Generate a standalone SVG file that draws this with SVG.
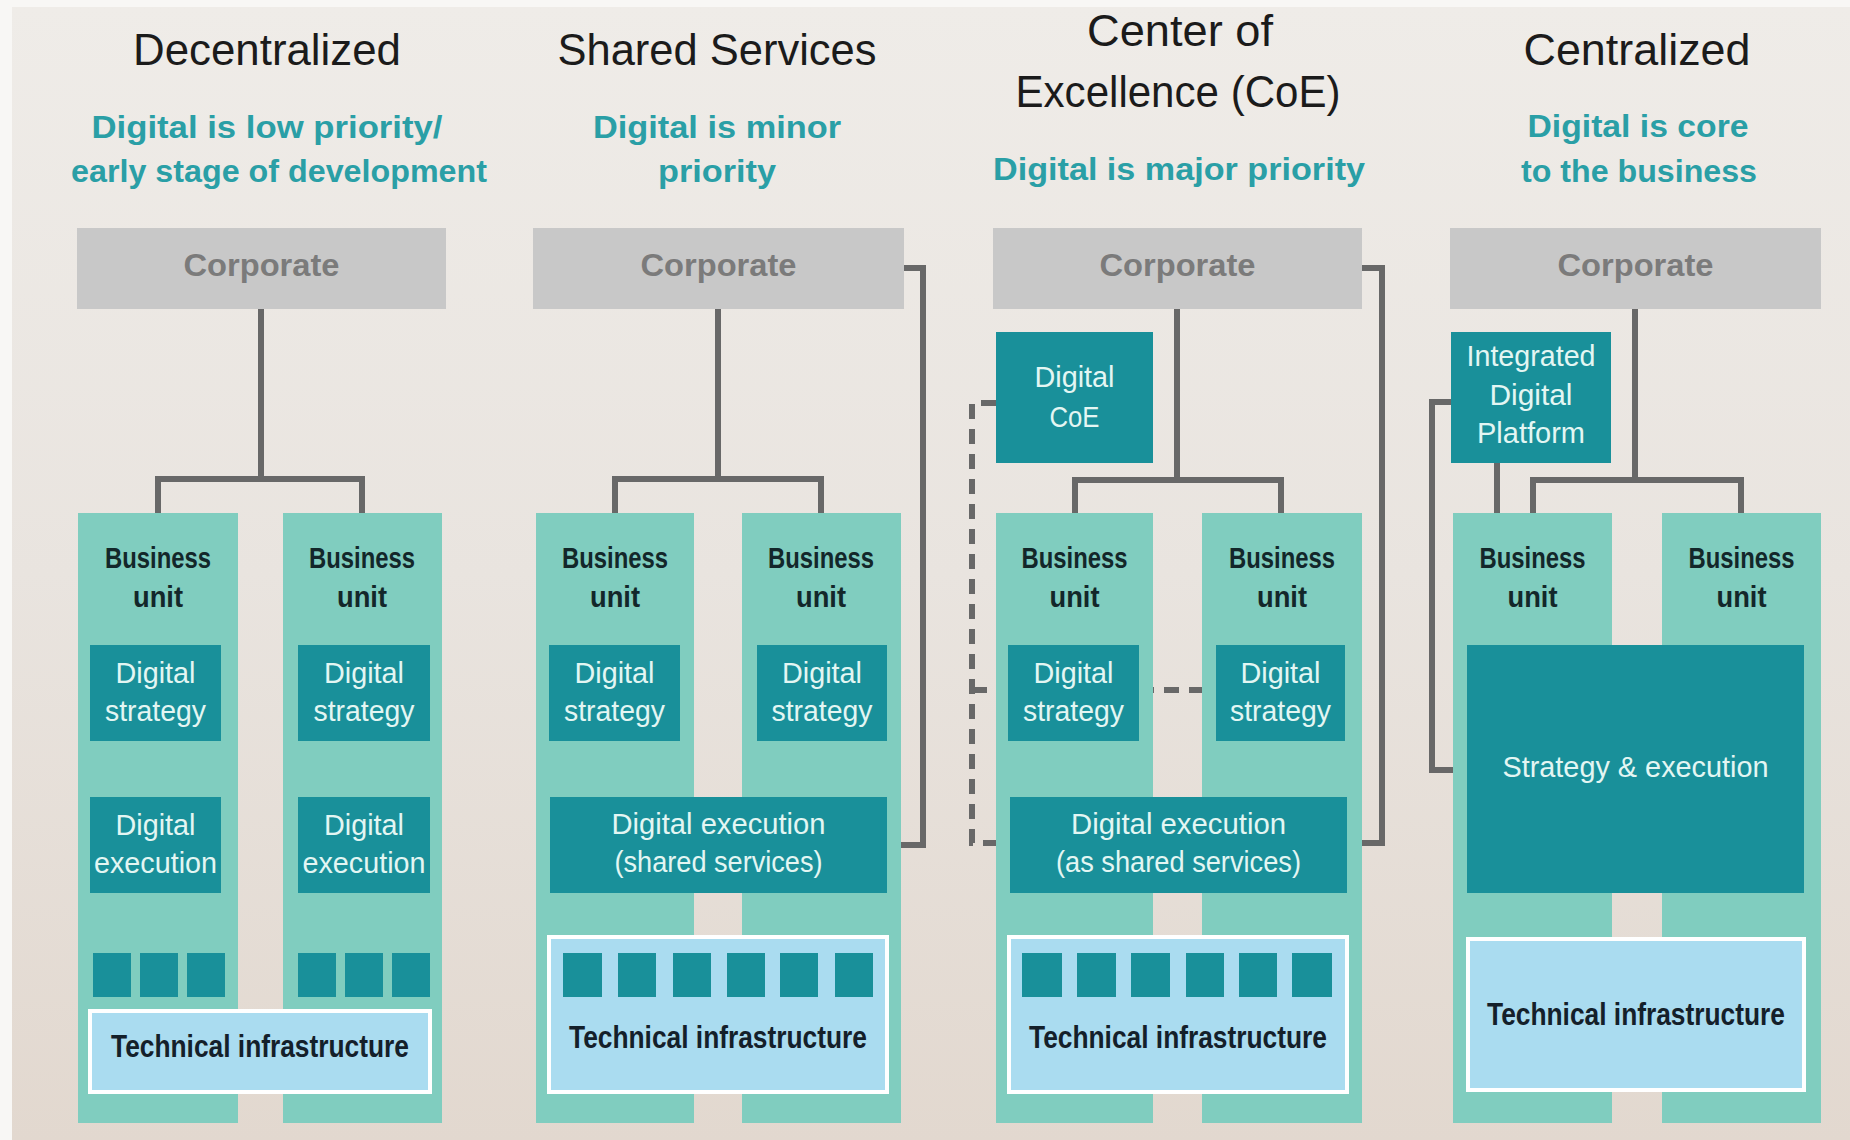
<svg xmlns="http://www.w3.org/2000/svg" width="1850" height="1140" viewBox="0 0 1850 1140">
<defs>
<linearGradient id="bg" x1="0" y1="0" x2="0" y2="1">
<stop offset="0" stop-color="#efece8"/>
<stop offset="0.5" stop-color="#e9e4df"/>
<stop offset="1" stop-color="#e2d8cf"/>
</linearGradient>
<style>
.title{font-family:"Liberation Sans",Arial,sans-serif;font-size:44px;fill:#1b1b1b;text-anchor:middle}
.sub{font-family:"Liberation Sans",Arial,sans-serif;font-size:32px;font-weight:bold;fill:#2a9fa6;text-anchor:middle}
.corp{fill:#c8c8c8}
.corpt{font-family:"Liberation Sans",Arial,sans-serif;font-size:32px;font-weight:bold;fill:#7b7b7b;text-anchor:middle}
.bu{fill:#80cdbf}
.but{font-family:"Liberation Sans",Arial,sans-serif;font-size:29px;font-weight:bold;fill:#13272a;text-anchor:middle}
.dk{fill:#19909a}
.dkt{font-family:"Liberation Sans",Arial,sans-serif;font-size:29px;fill:#e3f6f3;text-anchor:middle}
.ti{fill:#aadcf0;stroke:#ffffff;stroke-width:4}
.tit{font-family:"Liberation Sans",Arial,sans-serif;font-size:31px;font-weight:bold;fill:#14202a;text-anchor:middle}
.ln{fill:none;stroke:#686868;stroke-width:6}
.dash{fill:none;stroke:#686868;stroke-width:6;stroke-dasharray:15 10}
</style>
</defs>
<rect x="0" y="0" width="1850" height="1140" fill="#f8f7f5"/>
<rect x="12" y="7" width="1838" height="1133" fill="url(#bg)"/>

<g id="titles">
<text class="title" x="267" y="65" textLength="268" lengthAdjust="spacingAndGlyphs">Decentralized</text>
<text class="title" x="717" y="65" textLength="319" lengthAdjust="spacingAndGlyphs">Shared Services</text>
<text class="title" x="1180" y="46" textLength="186" lengthAdjust="spacingAndGlyphs">Center of</text>
<text class="title" x="1178" y="107" textLength="325" lengthAdjust="spacingAndGlyphs">Excellence (CoE)</text>
<text class="title" x="1637" y="65" textLength="227" lengthAdjust="spacingAndGlyphs">Centralized</text>
<text class="sub" x="267" y="138" textLength="351" lengthAdjust="spacingAndGlyphs">Digital is low priority/</text>
<text class="sub" x="279" y="182" textLength="416" lengthAdjust="spacingAndGlyphs">early stage of development</text>
<text class="sub" x="717" y="138" textLength="248" lengthAdjust="spacingAndGlyphs">Digital is minor</text>
<text class="sub" x="717" y="182" textLength="118" lengthAdjust="spacingAndGlyphs">priority</text>
<text class="sub" x="1179" y="180" textLength="372" lengthAdjust="spacingAndGlyphs">Digital is major priority</text>
<text class="sub" x="1638" y="137" textLength="221" lengthAdjust="spacingAndGlyphs">Digital is core</text>
<text class="sub" x="1639" y="182" textLength="236" lengthAdjust="spacingAndGlyphs">to the business</text>
</g>

<g id="connectors">
<path class="ln" d="M261 309 V479 M158 513 V479 H362 V513"/>
<path class="ln" d="M718 309 V479 M615 513 V479 H821 V513"/>
<path class="ln" d="M904 268 H923 V845 H887"/>
<path class="ln" d="M1177 309 V480 M1075 513 V480 H1281 V513"/>
<path class="ln" d="M1362 268 H1382 V843 H1347"/>
<path class="dash" d="M996 403 H972 V843 H1011"/>
<path class="dash" d="M972 690 H1008"/>
<path class="dash" d="M1139 690 H1216"/>
<path class="ln" d="M1635 309 V480 M1533 513 V480 H1741 V513"/>
<path class="ln" d="M1497 463 V513"/>
<path class="ln" d="M1452 402 H1432 V770 H1467"/>
</g>

<g id="corp-decentralized"><rect class="corp" x="77" y="228" width="369" height="81"/><text class="corpt" x="261.5" y="276" textLength="156" lengthAdjust="spacingAndGlyphs">Corporate</text></g>
<g id="corp-shared"><rect class="corp" x="533" y="228" width="371" height="81"/><text class="corpt" x="718.5" y="276" textLength="156" lengthAdjust="spacingAndGlyphs">Corporate</text></g>
<g id="corp-coe"><rect class="corp" x="993" y="228" width="369" height="81"/><text class="corpt" x="1177.5" y="276" textLength="156" lengthAdjust="spacingAndGlyphs">Corporate</text></g>
<g id="corp-centralized"><rect class="corp" x="1450" y="228" width="371" height="81"/><text class="corpt" x="1635.5" y="276" textLength="156" lengthAdjust="spacingAndGlyphs">Corporate</text></g>

<g id="digital-coe"><rect class="dk" x="996" y="332" width="157" height="131"/>
<text class="dkt" x="1074.5" y="387" textLength="80" lengthAdjust="spacingAndGlyphs">Digital</text>
<text class="dkt" x="1074.5" y="427" textLength="50" lengthAdjust="spacingAndGlyphs">CoE</text></g>
<g id="integrated-platform"><rect class="dk" x="1451" y="332" width="160" height="131"/>
<text class="dkt" x="1531" y="366" textLength="129" lengthAdjust="spacingAndGlyphs">Integrated</text>
<text class="dkt" x="1531" y="405" textLength="83" lengthAdjust="spacingAndGlyphs">Digital</text>
<text class="dkt" x="1531" y="443" textLength="108" lengthAdjust="spacingAndGlyphs">Platform</text></g>

<!-- Business units -->
<g id="bu-1a"><rect class="bu" x="78" y="513" width="160" height="610"/><text class="but" x="158" y="568" textLength="106" lengthAdjust="spacingAndGlyphs">Business</text><text class="but" x="158" y="607" textLength="50" lengthAdjust="spacingAndGlyphs">unit</text></g>
<g id="bu-1b"><rect class="bu" x="283" y="513" width="159" height="610"/><text class="but" x="362" y="568" textLength="106" lengthAdjust="spacingAndGlyphs">Business</text><text class="but" x="362" y="607" textLength="50" lengthAdjust="spacingAndGlyphs">unit</text></g>
<g id="bu-2a"><rect class="bu" x="536" y="513" width="158" height="610"/><text class="but" x="615" y="568" textLength="106" lengthAdjust="spacingAndGlyphs">Business</text><text class="but" x="615" y="607" textLength="50" lengthAdjust="spacingAndGlyphs">unit</text></g>
<g id="bu-2b"><rect class="bu" x="742" y="513" width="159" height="610"/><text class="but" x="821" y="568" textLength="106" lengthAdjust="spacingAndGlyphs">Business</text><text class="but" x="821" y="607" textLength="50" lengthAdjust="spacingAndGlyphs">unit</text></g>
<g id="bu-3a"><rect class="bu" x="996" y="513" width="157" height="610"/><text class="but" x="1074.5" y="568" textLength="106" lengthAdjust="spacingAndGlyphs">Business</text><text class="but" x="1074.5" y="607" textLength="50" lengthAdjust="spacingAndGlyphs">unit</text></g>
<g id="bu-3b"><rect class="bu" x="1202" y="513" width="160" height="610"/><text class="but" x="1282" y="568" textLength="106" lengthAdjust="spacingAndGlyphs">Business</text><text class="but" x="1282" y="607" textLength="50" lengthAdjust="spacingAndGlyphs">unit</text></g>
<g id="bu-4a"><rect class="bu" x="1453" y="513" width="159" height="610"/><text class="but" x="1532.5" y="568" textLength="106" lengthAdjust="spacingAndGlyphs">Business</text><text class="but" x="1532.5" y="607" textLength="50" lengthAdjust="spacingAndGlyphs">unit</text></g>
<g id="bu-4b"><rect class="bu" x="1662" y="513" width="159" height="610"/><text class="but" x="1741.5" y="568" textLength="106" lengthAdjust="spacingAndGlyphs">Business</text><text class="but" x="1741.5" y="607" textLength="50" lengthAdjust="spacingAndGlyphs">unit</text></g>

<!-- Digital strategy -->
<g id="ds-1a"><rect class="dk" x="90" y="645" width="131" height="96"/><text class="dkt" x="155.5" y="683" textLength="80" lengthAdjust="spacingAndGlyphs">Digital</text><text class="dkt" x="155.5" y="721" textLength="101" lengthAdjust="spacingAndGlyphs">strategy</text></g>
<g id="ds-1b"><rect class="dk" x="298" y="645" width="132" height="96"/><text class="dkt" x="364" y="683" textLength="80" lengthAdjust="spacingAndGlyphs">Digital</text><text class="dkt" x="364" y="721" textLength="101" lengthAdjust="spacingAndGlyphs">strategy</text></g>
<g id="ds-2a"><rect class="dk" x="549" y="645" width="131" height="96"/><text class="dkt" x="614.5" y="683" textLength="80" lengthAdjust="spacingAndGlyphs">Digital</text><text class="dkt" x="614.5" y="721" textLength="101" lengthAdjust="spacingAndGlyphs">strategy</text></g>
<g id="ds-2b"><rect class="dk" x="757" y="645" width="130" height="96"/><text class="dkt" x="822" y="683" textLength="80" lengthAdjust="spacingAndGlyphs">Digital</text><text class="dkt" x="822" y="721" textLength="101" lengthAdjust="spacingAndGlyphs">strategy</text></g>
<g id="ds-3a"><rect class="dk" x="1008" y="645" width="131" height="96"/><text class="dkt" x="1073.5" y="683" textLength="80" lengthAdjust="spacingAndGlyphs">Digital</text><text class="dkt" x="1073.5" y="721" textLength="101" lengthAdjust="spacingAndGlyphs">strategy</text></g>
<g id="ds-3b"><rect class="dk" x="1216" y="645" width="129" height="96"/><text class="dkt" x="1280.5" y="683" textLength="80" lengthAdjust="spacingAndGlyphs">Digital</text><text class="dkt" x="1280.5" y="721" textLength="101" lengthAdjust="spacingAndGlyphs">strategy</text></g>

<!-- Digital execution -->
<g id="de-1a"><rect class="dk" x="90" y="797" width="131" height="96"/><text class="dkt" x="155.5" y="835" textLength="80" lengthAdjust="spacingAndGlyphs">Digital</text><text class="dkt" x="155.5" y="873" textLength="123" lengthAdjust="spacingAndGlyphs">execution</text></g>
<g id="de-1b"><rect class="dk" x="298" y="797" width="132" height="96"/><text class="dkt" x="364" y="835" textLength="80" lengthAdjust="spacingAndGlyphs">Digital</text><text class="dkt" x="364" y="873" textLength="123" lengthAdjust="spacingAndGlyphs">execution</text></g>
<g id="de-2"><rect class="dk" x="550" y="797" width="337" height="96"/><text class="dkt" x="718.5" y="834" textLength="214" lengthAdjust="spacingAndGlyphs">Digital execution</text><text class="dkt" x="718.5" y="872" textLength="208" lengthAdjust="spacingAndGlyphs">(shared services)</text></g>
<g id="de-3"><rect class="dk" x="1010" y="797" width="337" height="96"/><text class="dkt" x="1178.5" y="834" textLength="215" lengthAdjust="spacingAndGlyphs">Digital execution</text><text class="dkt" x="1178.5" y="872" textLength="245" lengthAdjust="spacingAndGlyphs">(as shared services)</text></g>
<g id="se-4"><rect class="dk" x="1467" y="645" width="337" height="248"/><text class="dkt" x="1635.5" y="777" textLength="266" lengthAdjust="spacingAndGlyphs">Strategy &amp; execution</text></g>

<!-- Technical infrastructure -->
<g id="ti-1"><rect class="ti" x="90" y="1011" width="340" height="81"/><text class="tit" x="260" y="1057" textLength="298" lengthAdjust="spacingAndGlyphs">Technical infrastructure</text></g>
<g id="ti-2"><rect class="ti" x="549" y="937" width="338" height="155"/><text class="tit" x="718" y="1048" textLength="298" lengthAdjust="spacingAndGlyphs">Technical infrastructure</text></g>
<g id="ti-3"><rect class="ti" x="1009" y="937" width="338" height="155"/><text class="tit" x="1178" y="1048" textLength="298" lengthAdjust="spacingAndGlyphs">Technical infrastructure</text></g>
<g id="ti-4"><rect class="ti" x="1468" y="939" width="336" height="151"/><text class="tit" x="1636" y="1025" textLength="298" lengthAdjust="spacingAndGlyphs">Technical infrastructure</text></g>

<!-- Small squares -->
<g id="sq-1a" class="dk"><rect x="93" y="953" width="38" height="44"/><rect x="140" y="953" width="38" height="44"/><rect x="187" y="953" width="38" height="44"/></g>
<g id="sq-1b" class="dk"><rect x="298" y="953" width="38" height="44"/><rect x="345" y="953" width="38" height="44"/><rect x="392" y="953" width="38" height="44"/></g>
<g id="sq-2" class="dk"><rect x="563" y="953" width="39" height="44"/><rect x="618" y="953" width="38" height="44"/><rect x="673" y="953" width="38" height="44"/><rect x="727" y="953" width="38" height="44"/><rect x="780" y="953" width="38" height="44"/><rect x="835" y="953" width="38" height="44"/></g>
<g id="sq-3" class="dk"><rect x="1022" y="953" width="40" height="44"/><rect x="1077" y="953" width="39" height="44"/><rect x="1131" y="953" width="39" height="44"/><rect x="1186" y="953" width="38" height="44"/><rect x="1239" y="953" width="38" height="44"/><rect x="1292" y="953" width="40" height="44"/></g>
</svg>
